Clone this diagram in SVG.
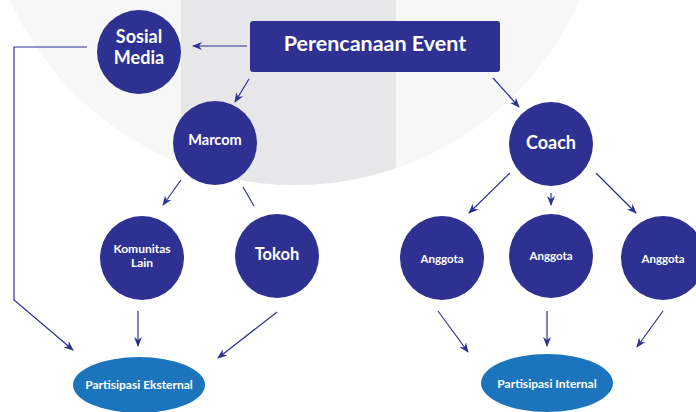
<svg xmlns="http://www.w3.org/2000/svg" width="696" height="412" viewBox="0 0 696 412">
  <defs>
    <clipPath id="disc">
      <circle cx="295" cy="-127" r="312"/>
    </clipPath>
    <marker id="arrow" viewBox="0 0 10 8" refX="9" refY="4" markerWidth="10" markerHeight="8" markerUnits="userSpaceOnUse" orient="auto">
      <path d="M0,0 L10,4 L0,8 L3,4 z" fill="#2e3192"/>
    </marker>
  </defs>
  <style>
    .node { fill: #2e3192; }
    .goal { fill: #1c75bc; }
    .label { fill: #ffffff; font-family: Lato, "Open Sans", "Liberation Sans", sans-serif; font-weight: bold; text-anchor: middle; }
    .edge { fill: none; stroke: #2e3192; stroke-width: 1.2; }
    .arrow { marker-end: url(#arrow); }
  </style>

  <!-- background: pale disc with a darker vertical band inside it -->
  <rect width="696" height="412" fill="#ffffff"/>
  <circle cx="295" cy="-127" r="312" fill="#f7f7f8"/>
  <rect x="181" y="0" width="215" height="200" fill="#e7e7e9" clip-path="url(#disc)"/>

  <!-- connectors -->
  <g id="connectors">
    <line class="edge arrow" x1="247" y1="46" x2="193" y2="46"/>
    <polyline class="edge arrow" points="87,47 14,47 14,300 73,350"/>
    <line class="edge arrow" x1="249" y1="79" x2="235" y2="102"/>
    <line class="edge arrow" x1="493" y1="78" x2="519" y2="107"/>
    <line class="edge arrow" x1="181" y1="180" x2="163" y2="205"/>
    <line class="edge" x1="243" y1="187" x2="254" y2="206"/>
    <line class="edge arrow" x1="510" y1="173" x2="469" y2="213"/>
    <line class="edge arrow" x1="551" y1="193" x2="551" y2="205"/>
    <line class="edge arrow" x1="596" y1="173" x2="636" y2="213"/>
    <line class="edge arrow" x1="138" y1="311" x2="138" y2="346"/>
    <line class="edge arrow" x1="277" y1="312" x2="218" y2="358"/>
    <line class="edge arrow" x1="438" y1="311" x2="468" y2="352"/>
    <line class="edge arrow" x1="547" y1="311" x2="547" y2="346"/>
    <line class="edge arrow" x1="663" y1="311" x2="637" y2="347"/>
  </g>

  <g id="perencanaan-event">
    <rect class="node" x="250" y="21" width="250" height="51" rx="3"/>
    <text class="label" x="375" y="51" font-size="21.5">Perencanaan Event</text>
  </g>

  <g id="sosial-media">
    <circle class="node" cx="139" cy="52" r="42"/>
    <text class="label" x="139" y="43" font-size="18">Sosial</text>
    <text class="label" x="139" y="64" font-size="18">Media</text>
  </g>

  <g id="marcom">
    <circle class="node" cx="215" cy="143" r="42"/>
    <text class="label" x="215" y="145" font-size="14.5">Marcom</text>
  </g>

  <g id="coach">
    <circle class="node" cx="551" cy="144" r="42"/>
    <text class="label" x="551" y="149" font-size="18">Coach</text>
  </g>

  <g id="komunitas-lain">
    <circle class="node" cx="142" cy="258" r="42"/>
    <text class="label" x="142" y="253" font-size="12">Komunitas</text>
    <text class="label" x="142" y="267" font-size="12">Lain</text>
  </g>

  <g id="tokoh">
    <circle class="node" cx="277" cy="256" r="42"/>
    <text class="label" x="277" y="260" font-size="16.5">Tokoh</text>
  </g>

  <g id="anggota-1">
    <circle class="node" cx="442" cy="258" r="42"/>
    <text class="label" x="442" y="263" font-size="11.5">Anggota</text>
  </g>

  <g id="anggota-2">
    <circle class="node" cx="551" cy="256" r="42"/>
    <text class="label" x="551" y="260" font-size="11.5">Anggota</text>
  </g>

  <g id="anggota-3">
    <circle class="node" cx="663" cy="258" r="42"/>
    <text class="label" x="663" y="263" font-size="11.5">Anggota</text>
  </g>

  <g id="partisipasi-eksternal">
    <ellipse class="goal" cx="139" cy="385" rx="66" ry="28"/>
    <text class="label" x="139" y="389" font-size="12">Partisipasi Eksternal</text>
  </g>

  <g id="partisipasi-internal">
    <ellipse class="goal" cx="547" cy="383" rx="66" ry="29"/>
    <text class="label" x="547" y="388" font-size="12">Partisipasi Internal</text>
  </g>
</svg>
